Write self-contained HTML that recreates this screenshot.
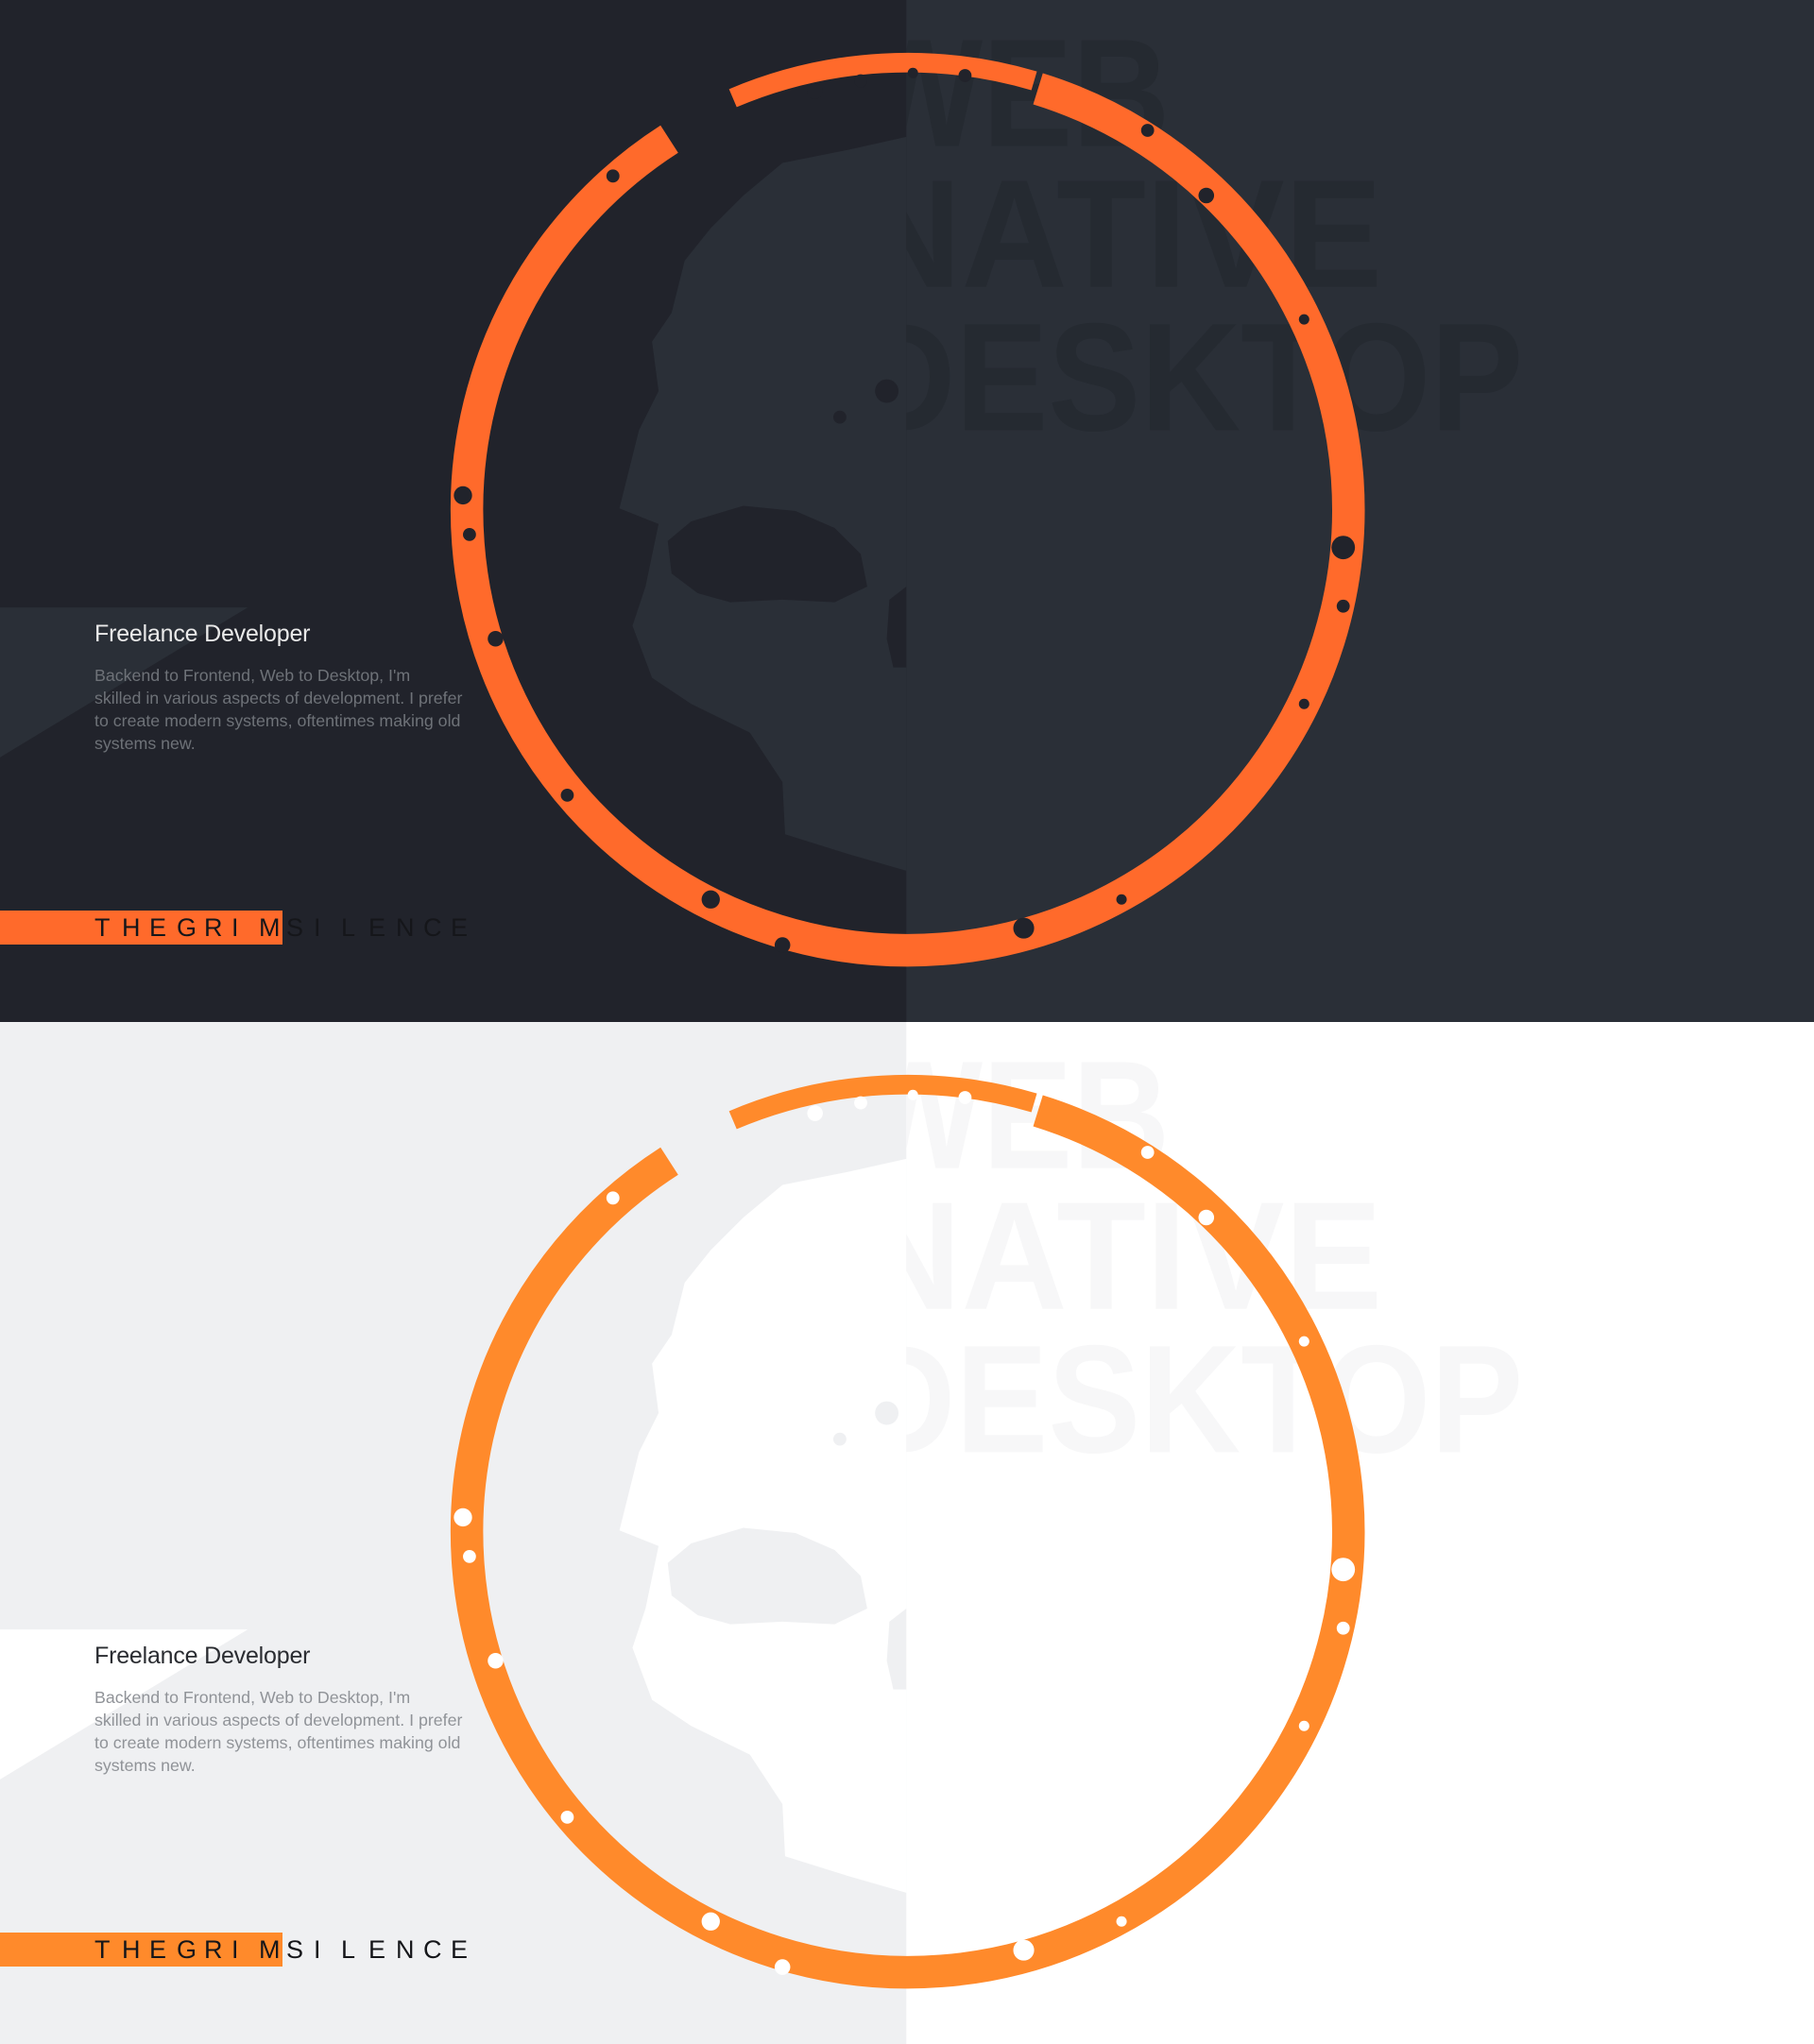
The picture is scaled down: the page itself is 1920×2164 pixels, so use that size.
<!DOCTYPE html>
<html><head><meta charset="utf-8"><style>
html,body{margin:0;padding:0}
body{width:1920px;height:2164px;position:relative;overflow:hidden;font-family:"Liberation Sans",sans-serif}
svg.bg{position:absolute;left:0;top:0}
.title{position:absolute;left:100px;font-size:25px;font-weight:300;letter-spacing:-0.2px}
.body{position:absolute;left:100px;font-size:17.8px;line-height:24px;width:430px}
.logo{position:absolute;left:0;height:36px}
.bar{position:absolute;left:0;top:0;width:299px;height:36px}
.letters{position:absolute;left:100px;top:2px;white-space:nowrap;font-size:27px;font-weight:300;line-height:32px}
.letters span{display:inline-block;width:29px;text-align:left}
</style></head><body>
<svg class="bg" width="1920" height="2164" viewBox="0 0 1391 1568" preserveAspectRatio="none">
<defs>
<clipPath id="rc"><rect x="695" y="0" width="696" height="1568"/></clipPath>
<g id="splotch">
<path d="M695,105 L650,115 L600,125 L570,150 L545,175 L525,200 L515,240 L500,262 L505,300 L490,330 L480,370 L475,390 L505,402 L495,450 L485,480 L500,520 L530,540 L575,562 L600,600 L602,640 L650,655 L695,668 Z"/>
</g>
<g id="bite">
<path d="M530,400 L570,388 L610,392 L640,405 L660,425 L665,450 L640,462 L600,460 L560,462 L535,455 L515,440 L512,415 Z"/>
<path d="M695,450 L682,460 L680,490 L685,512 L695,512 Z"/>
<circle cx="680" cy="300" r="9"/><circle cx="644" cy="320" r="5"/>
</g>
</defs>
<!-- top panel -->
<rect x="0" y="0" width="696" height="784" fill="#21232b"/>
<rect x="695" y="0" width="696" height="784" fill="#2a2f37"/>
<polygon points="0,466 190,466 0,581" fill="#2a2f37"/>
<use href="#splotch" fill="#2a2f37"/>
<use href="#bite" fill="#21232b"/>
<g clip-path="url(#rc)" fill="#252a31" font-family="Liberation Sans" font-weight="bold" font-size="118">
<text x="656" y="112" textLength="241" lengthAdjust="spacingAndGlyphs">WEB</text>
<text x="656" y="220" textLength="404" lengthAdjust="spacingAndGlyphs">NATIVE</text>
<text x="656" y="330" textLength="512" lengthAdjust="spacingAndGlyphs">DESKTOP</text>
</g>
<g fill="none" stroke="#ff6a2b">
<circle cx="696" cy="391" r="338" stroke-width="25" stroke-dasharray="1829 295" transform="rotate(-72.8 696 391)"/>
<circle cx="696" cy="391" r="343" stroke-width="15" stroke-dasharray="236 1920" transform="rotate(-113 696 391)"/>
</g>
<g fill="#21232b">
<circle cx="625" cy="70" r="6"/><circle cx="660" cy="62" r="5"/><circle cx="700" cy="56" r="4"/><circle cx="740" cy="58" r="5"/>
<circle cx="880" cy="100" r="5"/><circle cx="925" cy="150" r="6"/><circle cx="1000" cy="245" r="4"/><circle cx="1030" cy="420" r="9"/>
<circle cx="1030" cy="465" r="5"/><circle cx="1000" cy="540" r="4"/><circle cx="860" cy="690" r="4"/><circle cx="785" cy="712" r="8"/>
<circle cx="600" cy="725" r="6"/><circle cx="545" cy="690" r="7"/><circle cx="435" cy="610" r="5"/><circle cx="380" cy="490" r="6"/>
<circle cx="355" cy="380" r="7"/><circle cx="360" cy="410" r="5"/><circle cx="470" cy="135" r="5"/>
</g>
<!-- bottom panel -->
<g transform="translate(0,784)">
<rect x="0" y="0" width="696" height="784" fill="#eff0f2"/>
<rect x="695" y="0" width="696" height="784" fill="#ffffff"/>
<polygon points="0,466 190,466 0,581" fill="#ffffff"/>
<use href="#splotch" fill="#ffffff"/>
<use href="#bite" fill="#eff0f2"/>
<g clip-path="url(#rc)" fill="#f7f7f8" font-family="Liberation Sans" font-weight="bold" font-size="118">
<text x="656" y="112" textLength="241" lengthAdjust="spacingAndGlyphs">WEB</text>
<text x="656" y="220" textLength="404" lengthAdjust="spacingAndGlyphs">NATIVE</text>
<text x="656" y="330" textLength="512" lengthAdjust="spacingAndGlyphs">DESKTOP</text>
</g>
<g fill="none" stroke="#ff8a2b">
<circle cx="696" cy="391" r="338" stroke-width="25" stroke-dasharray="1829 295" transform="rotate(-72.8 696 391)"/>
<circle cx="696" cy="391" r="343" stroke-width="15" stroke-dasharray="236 1920" transform="rotate(-113 696 391)"/>
</g>
<g fill="#ffffff">
<circle cx="625" cy="70" r="6"/><circle cx="660" cy="62" r="5"/><circle cx="700" cy="56" r="4"/><circle cx="740" cy="58" r="5"/>
<circle cx="880" cy="100" r="5"/><circle cx="925" cy="150" r="6"/><circle cx="1000" cy="245" r="4"/><circle cx="1030" cy="420" r="9"/>
<circle cx="1030" cy="465" r="5"/><circle cx="1000" cy="540" r="4"/><circle cx="860" cy="690" r="4"/><circle cx="785" cy="712" r="8"/>
<circle cx="600" cy="725" r="6"/><circle cx="545" cy="690" r="7"/><circle cx="435" cy="610" r="5"/><circle cx="380" cy="490" r="6"/>
<circle cx="355" cy="380" r="7"/><circle cx="360" cy="410" r="5"/><circle cx="470" cy="135" r="5"/>
</g>
</g>
</svg>

<div class="title" style="top:657px;color:#eaeaea">Freelance Developer</div>
<div class="body" style="top:703px;color:#6e7278">Backend to Frontend, Web to Desktop, I'm<br>skilled in various aspects of development. I prefer<br>to create modern systems, oftentimes making old<br>systems new.</div>
<div class="logo" style="top:964px;width:520px">
<div class="bar" style="background:#ff6a2b"></div>
<div class="letters" style="color:#15161a"><span>T</span><span>H</span><span>E</span><span>G</span><span>R</span><span>I</span><span>M</span><span>S</span><span>I</span><span>L</span><span>E</span><span>N</span><span>C</span><span>E</span></div>
</div>

<div class="title" style="top:1739px;color:#2a2c31">Freelance Developer</div>
<div class="body" style="top:1785px;color:#909398">Backend to Frontend, Web to Desktop, I'm<br>skilled in various aspects of development. I prefer<br>to create modern systems, oftentimes making old<br>systems new.</div>
<div class="logo" style="top:2046px;width:520px">
<div class="bar" style="background:#ff8a2b"></div>
<div class="letters" style="color:#15161a"><span>T</span><span>H</span><span>E</span><span>G</span><span>R</span><span>I</span><span>M</span><span>S</span><span>I</span><span>L</span><span>E</span><span>N</span><span>C</span><span>E</span></div>
</div>
</body></html>
